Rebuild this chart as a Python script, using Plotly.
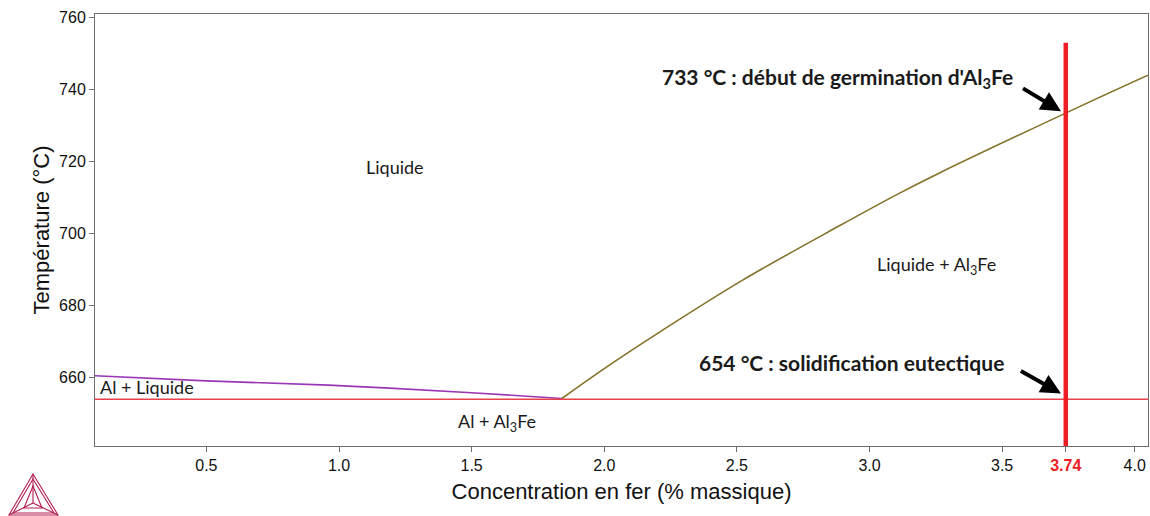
import plotly.graph_objects as go

# Liquidus on the aluminium side (Al + Liquide boundary)
al_liq_x = [0.08, 0.5, 0.96, 1.5, 1.84]
al_liq_t = [660.5, 659.1, 657.9, 655.8, 654.2]

# Liquidus of Al3Fe (primary precipitation)
al3fe_x = [1.84, 2.0, 2.21, 2.52, 2.89, 3.11, 3.26, 3.79, 4.05]
al3fe_t = [654.2, 662.5, 672.7, 687.0, 702.3, 711.1, 716.7, 735.2, 744.0]

# Key values
eutectic_t = 654
germination_t = 733
alloy_fe = 3.74
alloy_line_top = 753

x_range = [0.08, 4.05]
y_range = [641, 761]
x_ticks = [0.5, 1.0, 1.5, 2.0, 2.5, 3.0, 3.5, alloy_fe, 4.0]
x_ticktext = ["0.5", "1.0", "1.5", "2.0", "2.5", "3.0", "3.5",
              "<b><span style='color:#ee1d24'>3.74</span></b>", "4.0"]
y_ticks = [660, 680, 700, 720, 740, 760]

# Callout arrows: (tail x, tail T) -> (tip x, tip T)
arrows = [((3.573, 740.6), (3.722, 734.0)),
          ((3.565, 662.1), (3.722, 655.6))]

W, H = 1150, 516
ML, MR, MT, MB = 95, 2, 14, 70
PW, PH = W - ML - MR, H - MT - MB

TXT = "Lato"
AX = "Liberation Sans"

fig = go.Figure()

fig.add_trace(go.Scatter(x=al_liq_x, y=al_liq_t, mode="lines",
                         line=dict(color="#9b36b5", width=1.6, shape="spline"),
                         hoverinfo="skip"))
fig.add_trace(go.Scatter(x=al3fe_x, y=al3fe_t, mode="lines",
                         line=dict(color="#85712a", width=1.6, shape="spline"),
                         hoverinfo="skip"))
# Eutectic isotherm
fig.add_trace(go.Scatter(x=x_range, y=[eutectic_t, eutectic_t], mode="lines",
                         line=dict(color="#e8434c", width=1.6), hoverinfo="skip"))
# Alloy composition line
fig.add_trace(go.Scatter(x=[alloy_fe, alloy_fe], y=[y_range[0], alloy_line_top], mode="lines",
                         line=dict(color="#ee1d24", width=4.5), hoverinfo="skip"))

ann = []
def label(x, y, text, size=18, anchor="center", bold=False):
    ann.append(dict(x=x, y=y, xref="x", yref="y", text=f"<b>{text}</b>" if bold else text,
                    showarrow=False, xanchor=anchor, yanchor="middle",
                    font=dict(family=TXT, size=size, color="#1a1a1a")))

label(1.21, 718.4, "Liquide")
label(3.253, 691.2, "Liquide + Al<sub>3</sub>Fe")
label(0.09, 657.3, "Al + Liquide", anchor="left")
label(1.594, 647.6, "Al + Al<sub>3</sub>Fe")
label(3.547, 743.1, f"{germination_t} °C : début de germination d'Al<sub>3</sub>Fe",
      size=21, anchor="right", bold=True)
label(3.513, 664.25, f"{eutectic_t} °C : solidification eutectique",
      size=21, anchor="right", bold=True)

for tail, tip in arrows:
    ann.append(dict(x=tip[0], y=tip[1], xref="x", yref="y",
                    ax=tail[0], ay=tail[1], axref="x", ayref="y",
                    text="", showarrow=True, arrowhead=2, arrowsize=1,
                    arrowwidth=4, arrowcolor="#000000"))

# Logo mark in the lower-left corner
def px(xp, yp):
    return (xp - ML) / PW, (MT + PH - yp) / PH

def path(points, close=False):
    s = ""
    for i, (a, b) in enumerate(points):
        u, v = px(a, b)
        s += ("M" if i == 0 else " L") + f"{u:.5f},{v:.5f}"
    return s + (" Z" if close else "")

apex, bl, br, c = (33, 474), (9, 515), (58, 515), (33, 503)
logo_col = "#b31d4f"
shapes = []
for pts, close in [([apex, bl, br], True),
                   ([(33, 479), (13, 513), (54, 513)], True),
                   ([apex, c], False), ([c, bl], False), ([c, br], False),
                   ([(33, 486), (24, 508), (42, 508)], True)]:
    shapes.append(dict(type="path", xref="paper", yref="paper", path=path(pts, close),
                       line=dict(color=logo_col, width=1.1)))

axis_common = dict(showgrid=False, zeroline=False, showline=True, mirror=True,
                   linecolor="#6e6e6e", linewidth=1, ticks="outside", ticklen=5,
                   tickcolor="#6e6e6e", tickfont=dict(family=AX, size=16, color="#111111"))

fig.update_layout(
    width=W, height=H, margin=dict(l=ML, r=MR, t=MT, b=MB),
    paper_bgcolor="white", plot_bgcolor="white", showlegend=False,
    annotations=ann, shapes=shapes,
    xaxis=dict(range=x_range, tickvals=x_ticks, ticktext=x_ticktext,
               title=dict(text="Concentration en fer (% massique)", standoff=10,
                          font=dict(family=AX, size=22, color="#111111")),
               **axis_common),
    yaxis=dict(range=y_range, tickvals=y_ticks,
               title=dict(text="Température (°C)", standoff=3,
                          font=dict(family=AX, size=22, color="#111111")),
               **axis_common),
)

fig.write_html("out.html")
